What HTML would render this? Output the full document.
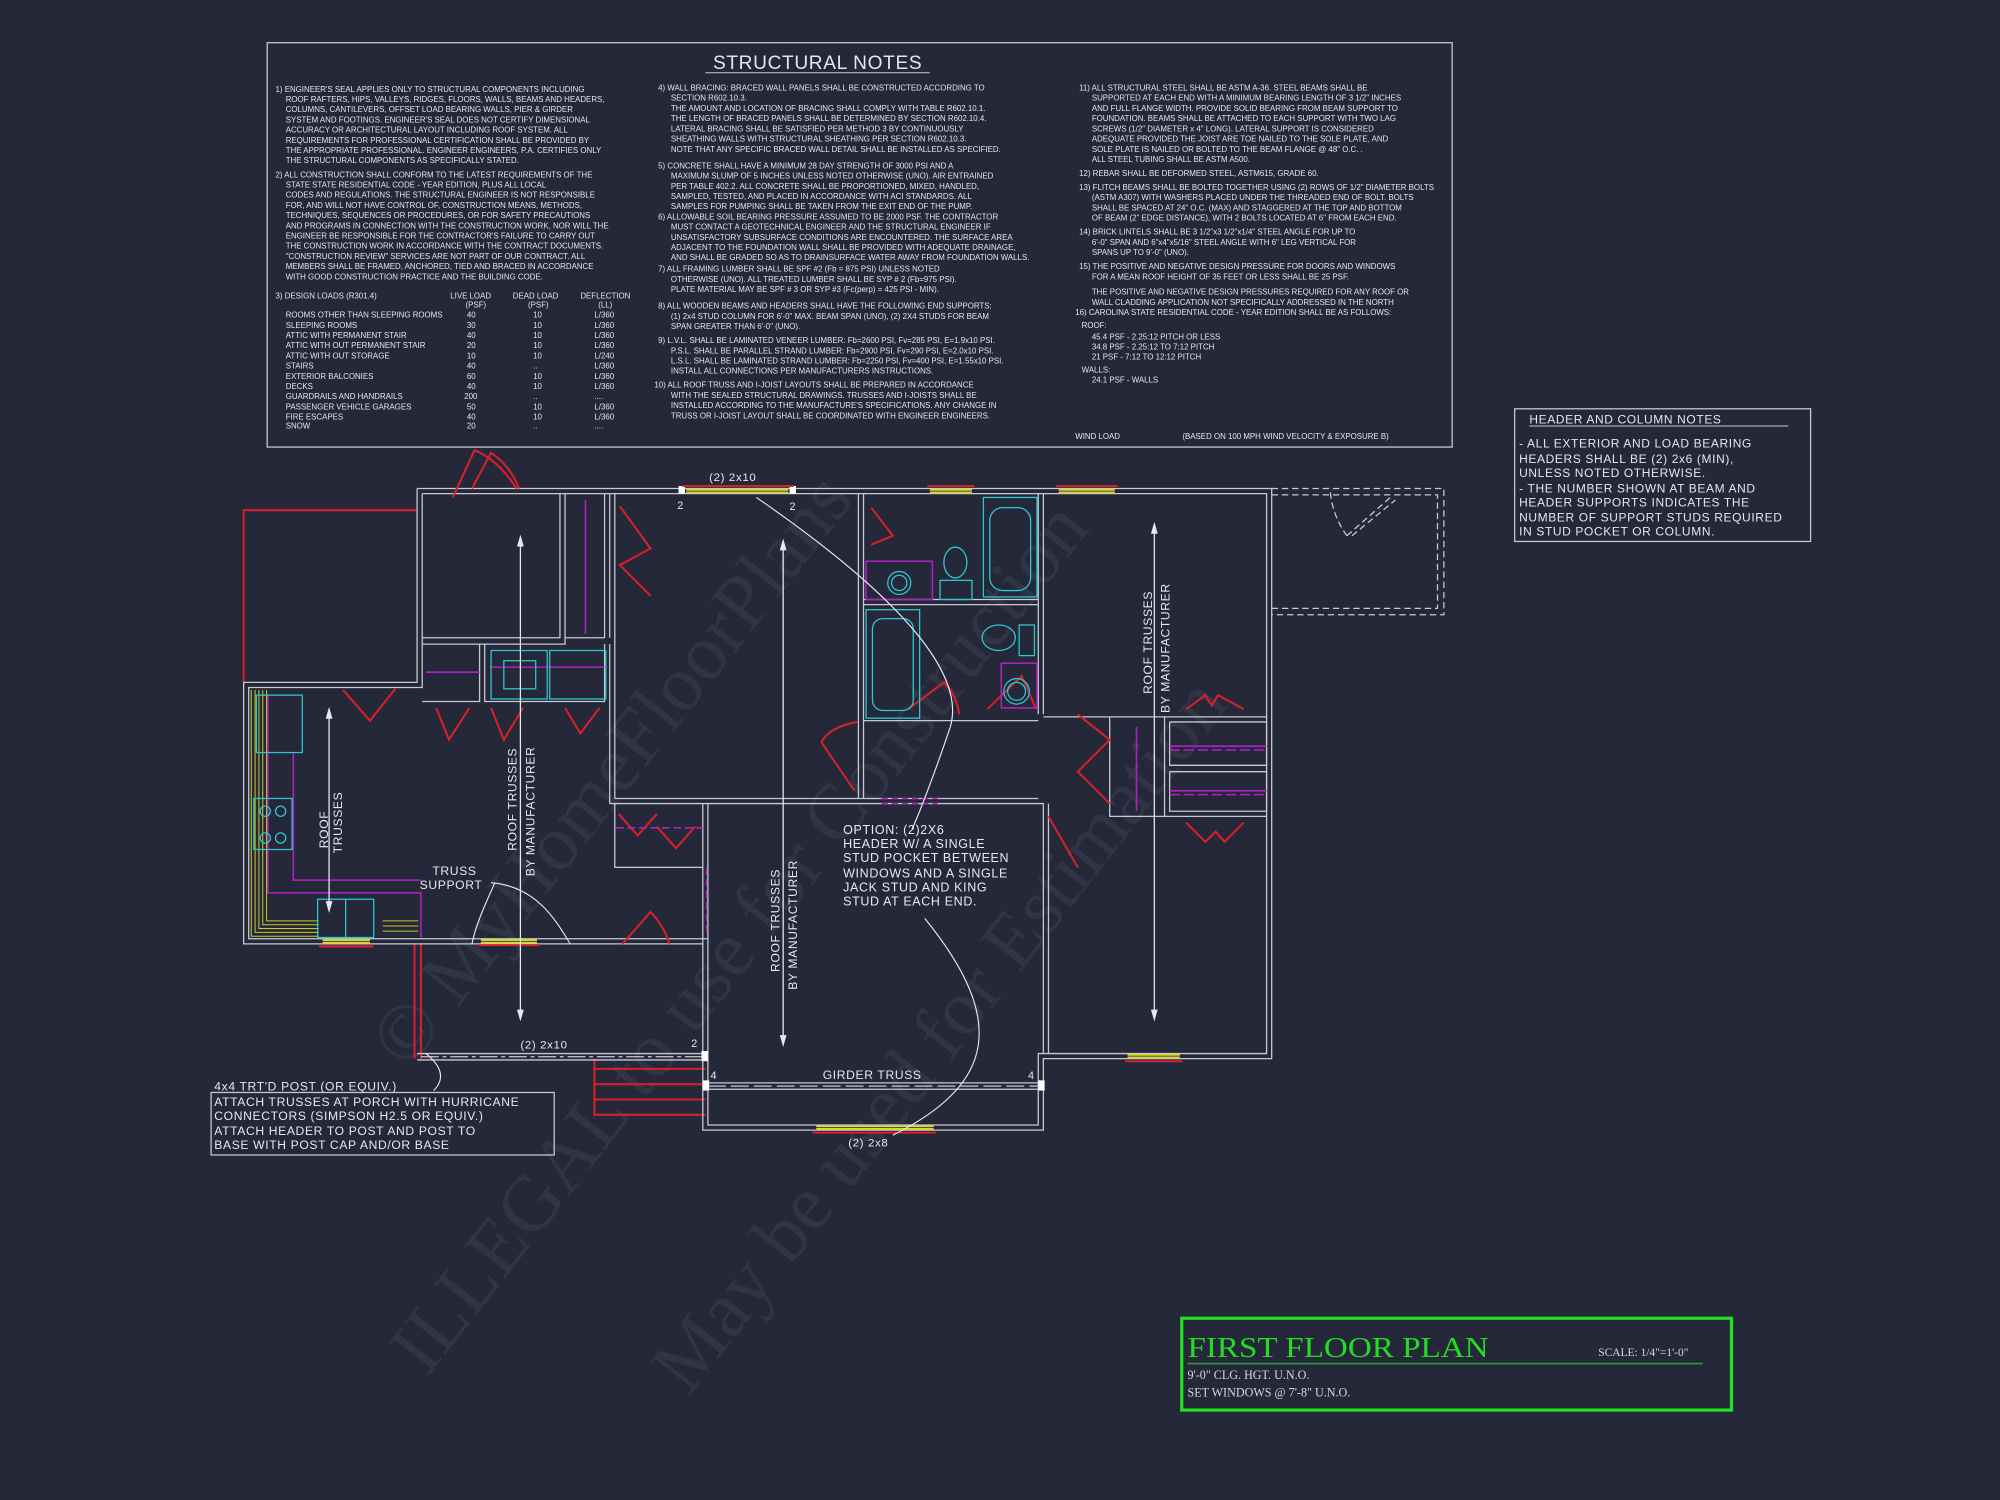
<!DOCTYPE html>
<html><head><meta charset="utf-8"><style>
html,body{margin:0;padding:0;background:#252839;}
svg{display:block}
.t{font-family:"Liberation Sans",sans-serif;fill:#e6e6ee;}
.n{font-size:6.2px;}
.w{stroke:#c9c9d2;stroke-width:1;fill:none}
.r{stroke:#d8202a;stroke-width:1.6;fill:none}
.c{stroke:#2cc8d0;stroke-width:1;fill:none}
.m{stroke:#b21fc4;stroke-width:1.2;fill:none}
.y{stroke:#d6d82a;stroke-width:1.4;fill:none}
.lbl{font-family:"Liberation Sans",sans-serif;fill:#e8e8ee;font-size:9.5px;letter-spacing:0.5px}
</style></head><body>
<svg width="2000" height="1500" viewBox="0 0 1568 1176" xmlns="http://www.w3.org/2000/svg">
<rect width="1568" height="1176" fill="#252839"/>

<!-- watermark -->
<g font-family="Liberation Serif,serif" font-size="62" fill="#333749" opacity="0.8">
<text transform="translate(320,840) rotate(-52)">© MyHomeFloorPlans</text>
<text transform="translate(335,1080) rotate(-52)">ILLEGAL to use for Construction</text>
<text transform="translate(540,1095) rotate(-52)">May be used for Estimation</text>
</g>

<!-- STRUCTURAL NOTES box -->
<rect x="209.5" y="33.5" width="929" height="317" fill="none" stroke="#c9c9d2" stroke-width="1"/>
<text x="641" y="54" class="t" font-size="15" text-anchor="middle" letter-spacing="0.5">STRUCTURAL NOTES</text>
<line x1="553" y1="57" x2="729" y2="57" stroke="#c9c9d2" stroke-width="0.8"/>

<g class="t n">
<text x="216" y="72">1) ENGINEER'S SEAL APPLIES ONLY TO STRUCTURAL COMPONENTS INCLUDING</text>
<text x="224" y="80">ROOF RAFTERS, HIPS, VALLEYS, RIDGES, FLOORS, WALLS, BEAMS AND HEADERS,</text>
<text x="224" y="88">COLUMNS, CANTILEVERS, OFFSET LOAD BEARING WALLS, PIER &amp; GIRDER</text>
<text x="224" y="96">SYSTEM AND FOOTINGS. ENGINEER'S SEAL DOES NOT CERTIFY DIMENSIONAL</text>
<text x="224" y="104">ACCURACY OR ARCHITECTURAL LAYOUT INCLUDING ROOF SYSTEM. ALL</text>
<text x="224" y="112">REQUIREMENTS FOR PROFESSIONAL CERTIFICATION SHALL BE PROVIDED BY</text>
<text x="224" y="120">THE APPROPRIATE PROFESSIONAL. ENGINEER ENGINEERS, P.A. CERTIFIES ONLY</text>
<text x="224" y="128">THE STRUCTURAL COMPONENTS AS SPECIFICALLY STATED.</text>
<text x="216" y="139">2) ALL CONSTRUCTION SHALL CONFORM TO THE LATEST REQUIREMENTS OF THE</text>
<text x="224" y="147">STATE STATE RESIDENTIAL CODE - YEAR EDITION, PLUS ALL LOCAL</text>
<text x="224" y="155">CODES AND REGULATIONS. THE STRUCTURAL ENGINEER IS NOT RESPONSIBLE</text>
<text x="224" y="163">FOR, AND WILL NOT HAVE CONTROL OF, CONSTRUCTION MEANS, METHODS,</text>
<text x="224" y="171">TECHNIQUES, SEQUENCES OR PROCEDURES, OR FOR SAFETY PRECAUTIONS</text>
<text x="224" y="179">AND PROGRAMS IN CONNECTION WITH THE CONSTRUCTION WORK, NOR WILL THE</text>
<text x="224" y="187">ENGINEER BE RESPONSIBLE FOR THE CONTRACTOR'S FAILURE TO CARRY OUT</text>
<text x="224" y="195">THE CONSTRUCTION WORK IN ACCORDANCE WITH THE CONTRACT DOCUMENTS.</text>
<text x="224" y="203">"CONSTRUCTION REVIEW" SERVICES ARE NOT PART OF OUR CONTRACT. ALL</text>
<text x="224" y="211">MEMBERS SHALL BE FRAMED, ANCHORED, TIED AND BRACED IN ACCORDANCE</text>
<text x="224" y="219">WITH GOOD CONSTRUCTION PRACTICE AND THE BUILDING CODE.</text>
<text x="216" y="234">3) DESIGN LOADS (R301.4)</text>
<text x="353" y="234">LIVE LOAD</text><text x="402" y="234">DEAD LOAD</text><text x="455" y="234">DEFLECTION</text>
<text x="365" y="241">(PSF)</text><text x="414" y="241">(PSF)</text><text x="469" y="241">(LL)</text>
</g>
<g class="t n">
<text x="224" y="249">ROOMS OTHER THAN SLEEPING ROOMS</text><text x="366" y="249">40</text><text x="418" y="249">10</text><text x="466" y="249">L/360</text>
<text x="224" y="257">SLEEPING ROOMS</text><text x="366" y="257">30</text><text x="418" y="257">10</text><text x="466" y="257">L/360</text>
<text x="224" y="265">ATTIC WITH PERMANENT STAIR</text><text x="366" y="265">40</text><text x="418" y="265">10</text><text x="466" y="265">L/360</text>
<text x="224" y="273">ATTIC WITH OUT PERMANENT STAIR</text><text x="366" y="273">20</text><text x="418" y="273">10</text><text x="466" y="273">L/360</text>
<text x="224" y="281">ATTIC WITH OUT STORAGE</text><text x="366" y="281">10</text><text x="418" y="281">10</text><text x="466" y="281">L/240</text>
<text x="224" y="289">STAIRS</text><text x="366" y="289">40</text><text x="418" y="289">..</text><text x="466" y="289">L/360</text>
<text x="224" y="297">EXTERIOR BALCONIES</text><text x="366" y="297">60</text><text x="418" y="297">10</text><text x="466" y="297">L/360</text>
<text x="224" y="305">DECKS</text><text x="366" y="305">40</text><text x="418" y="305">10</text><text x="466" y="305">L/360</text>
<text x="224" y="313">GUARDRAILS AND HANDRAILS</text><text x="364" y="313">200</text><text x="418" y="313">..</text><text x="466" y="313">....</text>
<text x="224" y="321">PASSENGER VEHICLE GARAGES</text><text x="366" y="321">50</text><text x="418" y="321">10</text><text x="466" y="321">L/360</text>
<text x="224" y="329">FIRE ESCAPES</text><text x="366" y="329">40</text><text x="418" y="329">10</text><text x="466" y="329">L/360</text>
<text x="224" y="336">SNOW</text><text x="366" y="336">20</text><text x="418" y="336">..</text><text x="466" y="336">....</text>
</g>

<g class="t n">
<text x="516" y="71">4) WALL BRACING: BRACED WALL PANELS SHALL BE CONSTRUCTED ACCORDING TO</text>
<text x="526" y="79">SECTION R602.10.3.</text>
<text x="526" y="87">THE AMOUNT AND LOCATION OF BRACING SHALL COMPLY WITH TABLE R602.10.1.</text>
<text x="526" y="95">THE LENGTH OF BRACED PANELS SHALL BE DETERMINED BY SECTION R602.10.4.</text>
<text x="526" y="103">LATERAL BRACING SHALL BE SATISFIED PER METHOD 3 BY CONTINUOUSLY</text>
<text x="526" y="111">SHEATHING WALLS WITH STRUCTURAL SHEATHING PER SECTION R602.10.3.</text>
<text x="526" y="119">NOTE THAT ANY SPECIFIC BRACED WALL DETAIL SHALL BE INSTALLED AS SPECIFIED.</text>
<text x="516" y="132">5) CONCRETE SHALL HAVE A MINIMUM 28 DAY STRENGTH OF 3000 PSI AND A</text>
<text x="526" y="140">MAXIMUM SLUMP OF 5 INCHES UNLESS NOTED OTHERWISE (UNO). AIR ENTRAINED</text>
<text x="526" y="148">PER TABLE 402.2. ALL CONCRETE SHALL BE PROPORTIONED, MIXED, HANDLED,</text>
<text x="526" y="156">SAMPLED, TESTED, AND PLACED IN ACCORDANCE WITH ACI STANDARDS. ALL</text>
<text x="526" y="164">SAMPLES FOR PUMPING SHALL BE TAKEN FROM THE EXIT END OF THE PUMP.</text>
<text x="516" y="172">6) ALLOWABLE SOIL BEARING PRESSURE ASSUMED TO BE 2000 PSF. THE CONTRACTOR</text>
<text x="526" y="180">MUST CONTACT A GEOTECHNICAL ENGINEER AND THE STRUCTURAL ENGINEER IF</text>
<text x="526" y="188">UNSATISFACTORY SUBSURFACE CONDITIONS ARE ENCOUNTERED. THE SURFACE AREA</text>
<text x="526" y="196">ADJACENT TO THE FOUNDATION WALL SHALL BE PROVIDED WITH ADEQUATE DRAINAGE,</text>
<text x="526" y="204">AND SHALL BE GRADED SO AS TO DRAINSURFACE WATER AWAY FROM FOUNDATION WALLS.</text>
<text x="516" y="213">7) ALL FRAMING LUMBER SHALL BE SPF #2 (Fb = 875 PSI) UNLESS NOTED</text>
<text x="526" y="221">OTHERWISE (UNO). ALL TREATED LUMBER SHALL BE SYP # 2 (Fb=975 PSI).</text>
<text x="526" y="229">PLATE MATERIAL MAY BE SPF # 3 OR SYP #3 (Fc(perp) = 425 PSI - MIN).</text>
<text x="516" y="242">8) ALL WOODEN BEAMS AND HEADERS SHALL HAVE THE FOLLOWING END SUPPORTS:</text>
<text x="526" y="250">(1) 2x4 STUD COLUMN FOR 6'-0" MAX. BEAM SPAN (UNO), (2) 2X4 STUDS FOR BEAM</text>
<text x="526" y="258">SPAN GREATER THAN 6'-0" (UNO).</text>
<text x="516" y="269">9) L.V.L. SHALL BE LAMINATED VENEER LUMBER: Fb=2600 PSI, Fv=285 PSI, E=1.9x10 PSI.</text>
<text x="526" y="277">P.S.L. SHALL BE PARALLEL STRAND LUMBER: Fb=2900 PSI, Fv=290 PSI, E=2.0x10 PSI.</text>
<text x="526" y="285">L.S.L. SHALL BE LAMINATED STRAND LUMBER: Fb=2250 PSI, Fv=400 PSI, E=1.55x10 PSI.</text>
<text x="526" y="293">INSTALL ALL CONNECTIONS PER MANUFACTURERS INSTRUCTIONS.</text>
<text x="513" y="304">10) ALL ROOF TRUSS AND I-JOIST LAYOUTS SHALL BE PREPARED IN ACCORDANCE</text>
<text x="526" y="312">WITH THE SEALED STRUCTURAL DRAWINGS. TRUSSES AND I-JOISTS SHALL BE</text>
<text x="526" y="320">INSTALLED ACCORDING TO THE MANUFACTURE'S SPECIFICATIONS. ANY CHANGE IN</text>
<text x="526" y="328">TRUSS OR I-JOIST LAYOUT SHALL BE COORDINATED WITH ENGINEER ENGINEERS.</text>
</g>

<g class="t n">
<text x="846" y="71">11) ALL STRUCTURAL STEEL SHALL BE ASTM A-36. STEEL BEAMS SHALL BE</text>
<text x="856" y="79">SUPPORTED AT EACH END WITH A MINIMUM BEARING LENGTH OF 3 1/2" INCHES</text>
<text x="856" y="87">AND FULL FLANGE WIDTH. PROVIDE SOLID BEARING FROM BEAM SUPPORT TO</text>
<text x="856" y="95">FOUNDATION. BEAMS SHALL BE ATTACHED TO EACH SUPPORT WITH TWO LAG</text>
<text x="856" y="103">SCREWS (1/2" DIAMETER x 4" LONG). LATERAL SUPPORT IS CONSIDERED</text>
<text x="856" y="111">ADEQUATE PROVIDED THE JOIST ARE TOE NAILED TO THE SOLE PLATE, AND</text>
<text x="856" y="119">SOLE PLATE IS NAILED OR BOLTED TO THE BEAM FLANGE @ 48" O.C. .</text>
<text x="856" y="127">ALL STEEL TUBING SHALL BE ASTM A500.</text>
<text x="846" y="138">12) REBAR SHALL BE DEFORMED STEEL, ASTM615, GRADE 60.</text>
<text x="846" y="149">13) FLITCH BEAMS SHALL BE BOLTED TOGETHER USING (2) ROWS OF 1/2" DIAMETER BOLTS</text>
<text x="856" y="157">(ASTM A307) WITH WASHERS PLACED UNDER THE THREADED END OF BOLT. BOLTS</text>
<text x="856" y="165">SHALL BE SPACED AT 24" O.C. (MAX) AND STAGGERED AT THE TOP AND BOTTOM</text>
<text x="856" y="173">OF BEAM (2" EDGE DISTANCE), WITH 2 BOLTS LOCATED AT 6" FROM EACH END.</text>
<text x="846" y="184">14) BRICK LINTELS SHALL BE 3 1/2"x3 1/2"x1/4" STEEL ANGLE FOR UP TO</text>
<text x="856" y="192">6'-0" SPAN AND 6"x4"x5/16" STEEL ANGLE WITH 6" LEG VERTICAL FOR</text>
<text x="856" y="200">SPANS UP TO 9'-0" (UNO).</text>
<text x="846" y="211">15) THE POSITIVE AND NEGATIVE DESIGN PRESSURE FOR DOORS AND WINDOWS</text>
<text x="856" y="219">FOR A MEAN ROOF HEIGHT OF 35 FEET OR LESS SHALL BE 25 PSF.</text>
<text x="856" y="231">THE POSITIVE AND NEGATIVE DESIGN PRESSURES REQUIRED FOR ANY ROOF OR</text>
<text x="856" y="239">WALL CLADDING APPLICATION NOT SPECIFICALLY ADDRESSED IN THE NORTH</text>
<text x="843" y="247">16) CAROLINA STATE RESIDENTIAL CODE - YEAR EDITION SHALL BE AS FOLLOWS:</text>
<text x="848" y="257">ROOF:</text>
<text x="856" y="266">45.4 PSF - 2.25:12 PITCH OR LESS</text>
<text x="856" y="274">34.8 PSF - 2.25:12 TO 7:12 PITCH</text>
<text x="856" y="282">21 PSF - 7:12 TO 12:12 PITCH</text>
<text x="848" y="292">WALLS:</text>
<text x="856" y="300">24.1 PSF - WALLS</text>
<text x="843" y="344">WIND LOAD</text>
<text x="927" y="344">(BASED ON 100 MPH WIND VELOCITY &amp; EXPOSURE B)</text>
</g>

<!-- HEADER AND COLUMN NOTES -->
<rect x="1187.5" y="320.5" width="232" height="104" fill="none" stroke="#c9c9d2" stroke-width="1"/>
<g class="t" font-size="9.4" letter-spacing="0.5">
<text x="1199" y="332">HEADER AND COLUMN NOTES</text>
<text x="1191" y="351">- ALL EXTERIOR AND LOAD BEARING</text>
<text x="1191" y="363">HEADERS SHALL BE (2) 2x6 (MIN),</text>
<text x="1191" y="374">UNLESS NOTED OTHERWISE.</text>
<text x="1191" y="386">- THE NUMBER SHOWN AT BEAM AND</text>
<text x="1191" y="397">HEADER SUPPORTS INDICATES THE</text>
<text x="1191" y="409">NUMBER OF SUPPORT STUDS REQUIRED</text>
<text x="1191" y="420">IN STUD POCKET OR COLUMN.</text>
</g>
<line x1="1199" y1="334" x2="1402" y2="334" stroke="#c9c9d2" stroke-width="0.8"/>

<!-- ===== FLOOR PLAN ===== -->
<g class="r" stroke-width="1.2">
<polyline points="327,400 191,400 191,535"/>
<polyline points="325,740 325,830"/>
<polyline points="330,740 330,830"/>
<polyline points="466,830 466,874 553,874"/>
<line x1="466" y1="838" x2="553" y2="838"/>
<line x1="466" y1="850" x2="553" y2="850"/>
<line x1="466" y1="862" x2="553" y2="862"/>
</g>

<g class="w">
<polyline points="327,383 997,383 997,830 818,830 818,886 551,886 551,740 191,740 191,535 327,535 327,383"/>
<polyline points="331,387 993,387 993,826 814,826 814,882 555,882 555,736 195,736 195,539 331,539 331,387"/>
<polyline points="331,500 439,500 439,387"/><polyline points="331,505 443,505 443,387"/>
<line x1="474" y1="387" x2="474" y2="500"/><line x1="478" y1="387" x2="478" y2="500"/>
<polyline points="443,500 474,500"/>
<line x1="478" y1="505" x2="478" y2="630"/><line x1="482" y1="387" x2="482" y2="626"/>
<polyline points="482,626 814,626"/><polyline points="478,630 818,630 818,826"/>
<line x1="822" y1="630" x2="822" y2="826"/>
<polyline points="331,550 376,550 376,505"/><polyline points="380,505 380,550 474,550 474,505"/>
<line x1="673" y1="387" x2="673" y2="626"/><line x1="677" y1="387" x2="677" y2="626"/>
<line x1="677" y1="470" x2="814" y2="470"/><line x1="677" y1="474" x2="814" y2="474"/>
<line x1="814" y1="387" x2="814" y2="560"/><line x1="818" y1="387" x2="818" y2="560"/>
<line x1="677" y1="565" x2="814" y2="565"/>
<polyline points="551,630 551,740"/><polyline points="555,630 555,736"/>
<polyline points="482,630 482,680 551,680"/>
<polyline points="870,562 870,640 913,640 913,562 870,562"/>
<polyline points="913,562 993,562"/><polyline points="913,640 993,640"/>
<polyline points="917,566 993,566 993,600 917,600 917,566"/>
<polyline points="917,605 993,605 993,636 917,636 917,605"/>
<line x1="818" y1="562" x2="870" y2="562"/>
</g>

<g stroke="#c9c9d2" stroke-width="1" fill="none" stroke-dasharray="5,3">
<polyline points="997,383 1132,383 1132,482 997,482"/>
<polyline points="997,388 1127,388 1127,477 997,477"/>
<path d="M1043,386 Q1045,405 1056,420"/>
<line x1="1056" y1="420" x2="1090" y2="390"/>
<line x1="1060" y1="420" x2="1094" y2="392"/>
</g>

<g stroke="#c9c9d2" stroke-width="1" fill="none">
<line x1="327" y1="826" x2="553" y2="826"/><line x1="327" y1="831" x2="553" y2="831"/>
<line x1="330" y1="828.5" x2="553" y2="828.5" stroke-dasharray="14,3,3,3"/>
<line x1="555" y1="849" x2="818" y2="849"/><line x1="555" y1="854" x2="818" y2="854"/>
<line x1="555" y1="851.5" x2="818" y2="851.5" stroke-dasharray="14,4"/>
</g>
<g fill="#ffffff">
<rect x="532" y="381" width="5" height="6"/><rect x="619" y="381" width="5" height="6"/>
<rect x="550" y="824" width="5" height="8"/><rect x="551" y="847" width="5" height="8"/><rect x="814" y="847" width="5" height="8"/>
</g>

<g>
<g class="y"><line x1="538" y1="384" x2="618" y2="384"/><line x1="538" y1="386" x2="618" y2="386"/></g>
<line x1="535" y1="381" x2="622" y2="381" class="r" stroke-width="1"/>
<g class="y"><line x1="729" y1="384" x2="762" y2="384"/><line x1="729" y1="386" x2="762" y2="386"/></g>
<line x1="727" y1="381" x2="764" y2="381" class="r" stroke-width="1"/>
<g class="y"><line x1="830" y1="384" x2="874" y2="384"/><line x1="830" y1="386" x2="874" y2="386"/></g>
<line x1="828" y1="381" x2="876" y2="381" class="r" stroke-width="1"/>
<g class="y"><line x1="253" y1="737" x2="290" y2="737"/><line x1="253" y1="739" x2="290" y2="739"/></g>
<line x1="250" y1="742" x2="293" y2="742" class="r" stroke-width="1"/>
<g class="y"><line x1="377" y1="737" x2="421" y2="737"/><line x1="377" y1="739" x2="421" y2="739"/></g>
<line x1="375" y1="741" x2="423" y2="741" class="r" stroke-width="1"/>
<g class="y"><line x1="884" y1="827" x2="925" y2="827"/><line x1="884" y1="829" x2="925" y2="829"/></g>
<line x1="882" y1="832" x2="927" y2="832" class="r" stroke-width="1"/>
<g class="y"><line x1="640" y1="883" x2="732" y2="883"/><line x1="640" y1="885" x2="732" y2="885"/></g>
<line x1="637" y1="888" x2="734" y2="888" class="r" stroke-width="1"/>
</g>

<g class="r">
<path d="M370,383 L385,355 Q400,365 407,383"/>
<path d="M486,397 L510,430 L486,443 L510,467"/>
<path d="M683,398 L700,420 L683,427"/>
<path d="M269,541 L290,565 L310,540"/>
<path d="M342,555 L352,580 L368,555"/>
<path d="M385,555 L395,580 L410,555"/>
<path d="M443,555 L455,575 L470,555"/>
<path d="M644,582 L670,620"/><path d="M644,582 Q650,570 672,566"/>
<path d="M712,556 L740,535 Q750,545 752,560"/>
<path d="M774,556 L801,530 Q808,545 812,556"/>
<path d="M845,560 L870,580 L845,605 L870,630"/>
<path d="M930,556 L945,545 L950,553 L955,545 L975,556"/>
<path d="M930,645 L945,660 L953,652 L960,660 L975,645"/>
<path d="M822,640 L845,680"/>
<path d="M485,638 L500,655 L515,638"/>
<path d="M515,648 L530,665 L545,648"/>
<path d="M488,740 L510,715 Q520,725 525,740"/>
<path d="M355,390 L372,353 Q390,360 405,383"/>
</g>

<g class="m">
<line x1="459" y1="392" x2="459" y2="497"/>
<line x1="334" y1="527" x2="376" y2="527"/>
<line x1="384" y1="523" x2="474" y2="523"/>
<rect x="679" y="440" width="52" height="30"/>
<rect x="785" y="520" width="28" height="35"/>
<line x1="691" y1="626" x2="735" y2="626" stroke-dasharray="5,3"/>
<line x1="691" y1="630" x2="735" y2="630" stroke-dasharray="5,3"/>
<line x1="483" y1="649" x2="551" y2="649" stroke-dasharray="6,3"/>
<line x1="554" y1="680" x2="554" y2="730" stroke-dasharray="6,3"/>
<line x1="891" y1="570" x2="891" y2="636"/>
<line x1="917" y1="585" x2="993" y2="585"/><line x1="917" y1="588" x2="993" y2="588" stroke-dasharray="8,3"/>
<line x1="917" y1="620" x2="993" y2="620"/><line x1="917" y1="623" x2="993" y2="623" stroke-dasharray="8,3"/>
<polyline points="205,545 210,545 210,700 330,700 330,735"/>
<polyline points="230,590 230,690 330,690"/>
</g>

<g stroke="#c8c828" stroke-width="0.8" fill="none">
<polyline points="197,541 197,734 250,734"/>
<polyline points="200,541 200,731 250,731"/>
<polyline points="203,541 203,728 250,728"/>
<polyline points="206,541 206,725 250,725"/>
<polyline points="209,541 209,722 250,722"/>
<line x1="300" y1="722" x2="328" y2="722"/><line x1="300" y1="726" x2="328" y2="726"/><line x1="300" y1="730" x2="328" y2="730"/>
</g>

<g class="c">
<rect x="201" y="545" width="36" height="45"/>
<rect x="199" y="626" width="30" height="40"/>
<circle cx="208" cy="636" r="4"/><circle cx="220" cy="636" r="4"/><circle cx="208" cy="657" r="4"/><circle cx="220" cy="657" r="4"/>
<rect x="249" y="705" width="44" height="30"/><line x1="271" y1="705" x2="271" y2="735"/>
<rect x="385" y="510" width="44" height="38"/><rect x="395" y="518" width="25" height="22"/>
<rect x="431" y="510" width="44" height="38"/>
<rect x="771" y="390" width="42" height="78"/><rect x="776" y="398" width="32" height="65" rx="10"/>
<ellipse cx="749" cy="441" rx="9" ry="12"/>
<rect x="737" y="455" width="25" height="15"/>
<circle cx="705" cy="457" r="9"/><circle cx="705" cy="457" r="6"/>
<rect x="679" y="478" width="42" height="85"/><rect x="684" y="485" width="32" height="72" rx="8"/>
<ellipse cx="783" cy="500" rx="13" ry="10"/>
<rect x="799" y="490" width="12" height="24"/>
<circle cx="797" cy="542" r="10"/><circle cx="797" cy="542" r="7"/>
</g>

<g stroke="#e8e8ee" stroke-width="1" fill="#e8e8ee">
<line x1="408" y1="425" x2="408" y2="795"/><path d="M408,421 l-2,7 h4z"/><path d="M408,799 l-2,-7 h4z"/>
<line x1="614" y1="428" x2="614" y2="815"/><path d="M614,424 l-2,7 h4z"/><path d="M614,819 l-2,-7 h4z"/>
<line x1="905" y1="415" x2="905" y2="795"/><path d="M905,411 l-2,7 h4z"/><path d="M905,799 l-2,-7 h4z"/>
<line x1="258" y1="560" x2="258" y2="710"/><path d="M258,556 l-2,7 h4z"/><path d="M258,714 l-2,-7 h4z"/>
</g>
<g stroke="#e8e8ee" stroke-width="0.9" fill="none">
<path d="M593,390 C680,450 760,520 745,570 C735,600 720,640 715,650"/>
<path d="M725,720 C790,800 780,850 700,890"/>
<path d="M388,692 C380,710 373,725 370,740"/>
<path d="M385,692 C420,695 435,720 447,740"/>
<path d="M334,826 C345,835 350,845 340,855"/>
</g>

<g class="lbl">
<text x="556" y="377" font-size="9">(2) 2x10</text>
<text x="531" y="399" font-size="8.5">2</text><text x="619" y="400" font-size="8.5">2</text>
<text x="408" y="822" font-size="9">(2) 2x10</text>
<text x="542" y="821" font-size="8.5">2</text>
<text x="557" y="846" font-size="8.5">4</text><text x="806" y="846" font-size="8.5">4</text>
<text x="645" y="846" font-size="9.5">GIRDER TRUSS</text>
<text x="665" y="899" font-size="9">(2) 2x8</text>
<text x="339" y="686" font-size="9.5">TRUSS</text>
<text x="329" y="697" font-size="9.5">SUPPORT</text>
<text x="661" y="654" font-size="9.8">OPTION: (2)2X6</text>
<text x="661" y="665" font-size="9.8">HEADER W/ A SINGLE</text>
<text x="661" y="676" font-size="9.8">STUD POCKET BETWEEN</text>
<text x="661" y="688" font-size="9.8">WINDOWS AND A SINGLE</text>
<text x="661" y="699" font-size="9.8">JACK STUD AND KING</text>
<text x="661" y="710" font-size="9.8">STUD AT EACH END.</text>
</g>
<g class="lbl" font-size="11.5">
<text transform="translate(405,667) rotate(-90)">ROOF TRUSSES</text>
<text transform="translate(419,687) rotate(-90)">BY MANUFACTURER</text>
<text transform="translate(611,762) rotate(-90)">ROOF TRUSSES</text>
<text transform="translate(625,776) rotate(-90)">BY MANUFACTURER</text>
<text transform="translate(903,544) rotate(-90)">ROOF TRUSSES</text>
<text transform="translate(917,559) rotate(-90)">BY MANUFACTURER</text>
<text transform="translate(257,665) rotate(-90)" font-size="9.5">ROOF</text>
<text transform="translate(268,669) rotate(-90)" font-size="9.5">TRUSSES</text>
</g>

<text x="168" y="855" class="lbl" font-size="9.5">4x4 TRT'D POST (OR EQUIV.)</text>
<rect x="165.5" y="856.5" width="269" height="49" fill="none" stroke="#c9c9d2" stroke-width="1"/>
<g class="lbl" font-size="9.5">
<text x="168" y="867">ATTACH TRUSSES AT PORCH WITH HURRICANE</text>
<text x="168" y="878">CONNECTORS (SIMPSON H2.5 OR EQUIV.)</text>
<text x="168" y="890">ATTACH HEADER TO POST AND POST TO</text>
<text x="168" y="901">BASE WITH POST CAP AND/OR BASE</text>
</g>

<rect x="926.5" y="1033.5" width="431" height="72" fill="none" stroke="#22e022" stroke-width="2.5"/>
<text x="931" y="1064" font-family="Liberation Serif,serif" font-size="22" fill="#22dd22" textLength="236" lengthAdjust="spacingAndGlyphs">FIRST FLOOR PLAN</text>
<text x="1253" y="1063" font-family="Liberation Serif,serif" font-size="9" fill="#d8d8e0">SCALE: 1/4"=1'-0"</text>
<line x1="931" y1="1069" x2="1335" y2="1069" stroke="#2a9a3a" stroke-width="1.3"/>
<text x="931" y="1081" font-family="Liberation Serif,serif" font-size="9.5" fill="#d8d8e0">9'-0" CLG. HGT. U.N.O.</text>
<text x="931" y="1095" font-family="Liberation Serif,serif" font-size="9.5" fill="#d8d8e0">SET WINDOWS @ 7'-8" U.N.O.</text>
</svg>
</body></html>
